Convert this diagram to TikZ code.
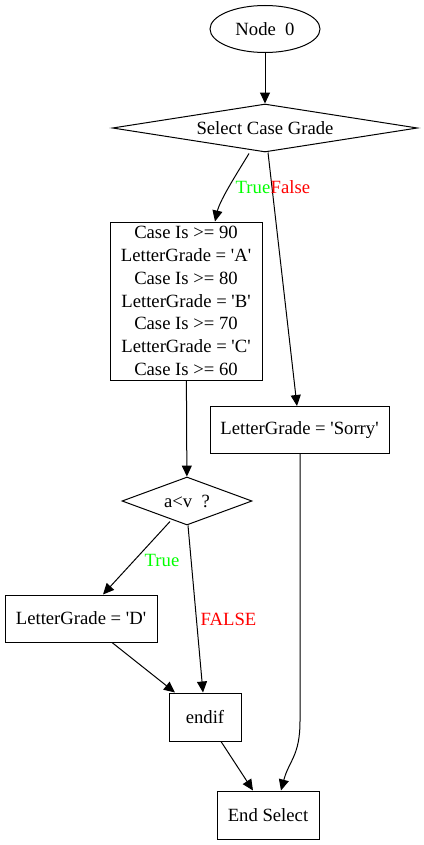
\documentclass[tikz,border=0pt]{standalone}
\usepackage{fontspec}
\setmainfont{Liberation Serif}
\usetikzlibrary{shapes.geometric,arrows.meta}
\definecolor{truegreen}{RGB}{0,255,0}
\newcommand{\sq}{\textquotesingle}
\tikzset{
	box/.style={draw,line width=1pt,rectangle,inner sep=0pt,font=\fontsize{18.67}{22.8}\selectfont,align=center},
	decision/.style={draw,line width=1pt,diamond,inner sep=0pt,font=\fontsize{18.67}{22}\selectfont},
	edge/.style={line width=1pt,-{Triangle[length=11pt,width=10pt]}},
	lbl/.style={inner sep=0pt,font=\fontsize{18.67}{22}\selectfont}
}
\begin{document}
\begin{tikzpicture}[x=1pt,y=-1pt]
	\useasboundingbox (0,0) rectangle (423,845);
	
	%nodi
	\node[draw,line width=1pt,ellipse,minimum width=110pt,minimum height=47pt,inner sep=0pt,font=\fontsize{18.67}{22}\selectfont] (n0) at (265,29) {Node\ \ 0};
	\node[decision,aspect=6.35,minimum width=305pt,minimum height=48pt] (sel) at (265,128) {Select Case Grade};
	\node[box,minimum width=152pt,minimum height=158pt] (cases) at (186,301) {Case Is >= 90\\LetterGrade = \sq A\sq\\Case Is >= 80\\LetterGrade = \sq B\sq\\Case Is >= 70\\LetterGrade = \sq C\sq\\Case Is >= 60};
	\node[box,minimum width=179pt,minimum height=47pt] (sorry) at (299.5,430) {LetterGrade = \sq Sorry\sq};
	\node[decision,aspect=2.7,minimum width=130pt,minimum height=48pt] (cond) at (187,501) {a<v\ \ ?};
	\node[box,minimum width=152pt,minimum height=47pt] (gd) at (81,618.5) {LetterGrade = \sq D\sq};
	\node[box,minimum width=72pt,minimum height=48pt] (endif) at (205,717) {endif};
	\node[box,minimum width=102pt,minimum height=48pt] (endsel) at (268,815) {End Select};
	
	%archi
	\draw[edge] (n0) -- (sel);
	\draw[edge] ([xshift=-16pt,yshift=-1pt]sel.south) .. controls +(-9,15) and +(5,-22) .. ([xshift=29pt]cases.north);
	\draw[edge] ([xshift=3pt]sel.south) -- ([xshift=-2.5pt]sorry.north);
	\draw[edge] (cases) -- (cond);
	\draw[edge] ([xshift=-17pt,yshift=4pt]cond.south) -- ([xshift=22pt]gd.north);
	\draw[edge] ([xshift=1pt]cond.south) -- ([xshift=-2pt]endif.north);
	\draw[edge] ([xshift=31pt]gd.south) -- ([xshift=-30pt]endif.north);
	\draw[edge] ([xshift=16pt]endif.south) -- ([xshift=-15pt]endsel.north);
	\draw[edge] ([xshift=0.5pt]sorry.south) -- ([xshift=0.5pt,yshift=-267pt]sorry.south) .. controls +(0,35) and +(8,-30) .. ([xshift=13pt]endsel.north);
	
	%etichette
	\node[lbl,text=truegreen,anchor=east] (t1) at (270.5,187) {True};
	\node[lbl,text=red,anchor=west] (f1) at (t1.east) {False};
	\node[lbl,text=truegreen] (t2) at (162,560) {True};
	\node[lbl,text=red] (f2) at (228.5,619) {FALSE};
\end{tikzpicture}
\end{document}
